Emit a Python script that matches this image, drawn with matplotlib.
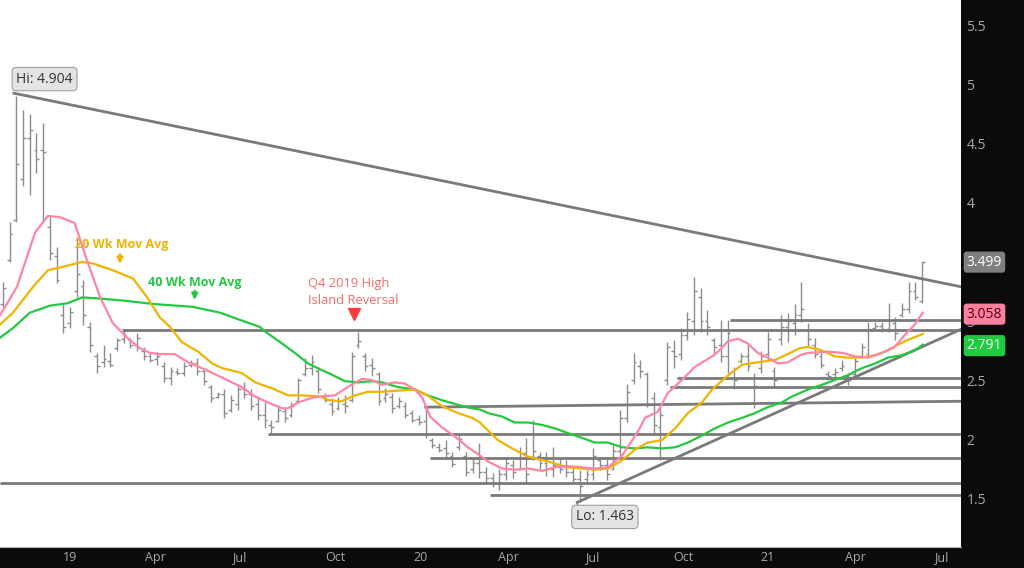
import numpy as np
import matplotlib.pyplot as plt

plt.rcParams['font.family'] = ['Open Sans', 'DejaVu Sans']

# weekly OHLC bars, late Oct 2018 .. mid Jun 2021
high = [3.33, 3.84, 4.904, 4.79, 4.75, 4.59, 4.68, 3.88, 3.63, 3.15,
        3.12, 3.71, 3.35, 2.99, 2.73, 2.80, 2.73, 2.86, 2.92, 2.86,
        2.90, 2.78, 2.74, 2.74, 2.65, 2.61, 2.60, 2.65, 2.67, 2.69,
        2.60, 2.46, 2.40, 2.42, 2.37, 2.46, 2.48, 2.42, 2.35, 2.31,
        2.16, 2.29, 2.27, 2.31, 2.52, 2.69, 2.71, 2.61, 2.39, 2.35,
        2.36, 2.37, 2.74, 2.91, 2.73, 2.69, 2.57, 2.43, 2.39, 2.36,
        2.31, 2.25, 2.20, 2.27, 2.01, 1.97, 1.99, 1.89, 2.03, 1.89,
        1.85, 1.97, 1.76, 1.71, 1.75, 1.85, 1.82, 1.93, 2.01, 2.16,
        1.89, 1.89, 1.93, 1.84, 1.82, 1.76, 1.74, 1.74, 1.92, 1.85,
        1.84, 1.95, 2.25, 2.47, 2.73, 2.67, 2.57, 2.40, 2.27, 2.82,
        2.84, 2.94, 3.08, 3.37, 3.28, 3.09, 2.86, 3.01, 3.01, 2.61,
        2.73, 2.81, 2.56, 2.75, 2.91, 2.61, 3.05, 3.07, 3.14, 3.33,
        2.98, 2.86, 2.75, 2.58, 2.60, 2.67, 2.56, 2.69, 2.81, 2.99,
        2.99, 2.99, 3.15, 3.03, 3.15, 3.33, 3.33, 3.499]
low = [3.12, 3.50, 3.84, 4.14, 4.07, 4.25, 3.84, 3.52, 3.32, 2.90,
       2.94, 3.20, 2.97, 2.74, 2.56, 2.61, 2.61, 2.75, 2.81, 2.77,
       2.75, 2.67, 2.65, 2.63, 2.48, 2.46, 2.54, 2.53, 2.61, 2.54,
       2.46, 2.31, 2.35, 2.18, 2.23, 2.25, 2.35, 2.25, 2.16, 2.09,
       2.05, 2.14, 2.14, 2.19, 2.31, 2.53, 2.54, 2.39, 2.31, 2.20,
       2.25, 2.22, 2.31, 2.77, 2.58, 2.53, 2.29, 2.31, 2.22, 2.26,
       2.18, 2.14, 2.12, 2.01, 1.92, 1.89, 1.85, 1.76, 1.91, 1.69,
       1.71, 1.67, 1.63, 1.59, 1.57, 1.65, 1.67, 1.74, 1.63, 1.82,
       1.75, 1.69, 1.68, 1.71, 1.68, 1.64, 1.463, 1.64, 1.65, 1.74,
       1.65, 1.74, 1.85, 2.14, 2.47, 2.52, 2.27, 2.05, 1.82, 2.46,
       2.60, 2.67, 2.84, 2.88, 2.91, 2.88, 2.73, 2.65, 2.56, 2.42,
       2.64, 2.58, 2.26, 2.56, 2.67, 2.44, 2.80, 2.82, 2.88, 2.99,
       2.78, 2.69, 2.60, 2.50, 2.52, 2.58, 2.46, 2.53, 2.69, 2.69,
       2.92, 2.91, 2.91, 2.84, 3.03, 3.07, 3.18, 3.15]
opn = [3.14, 3.52, 3.86, 4.20, 4.55, 4.45, 4.45, 3.80, 3.55, 3.05,
       2.98, 3.25, 3.30, 2.95, 2.70, 2.65, 2.66, 2.77, 2.85, 2.84,
       2.80, 2.75, 2.70, 2.68, 2.62, 2.52, 2.57, 2.56, 2.63, 2.64,
       2.58, 2.44, 2.36, 2.38, 2.25, 2.30, 2.42, 2.38, 2.30, 2.20,
       2.12, 2.15, 2.24, 2.20, 2.32, 2.55, 2.60, 2.58, 2.36, 2.30,
       2.26, 2.30, 2.33, 2.80, 2.70, 2.63, 2.55, 2.35, 2.36, 2.28,
       2.28, 2.22, 2.17, 2.15, 1.99, 1.93, 1.92, 1.86, 1.93, 1.86,
       1.75, 1.80, 1.72, 1.67, 1.62, 1.70, 1.78, 1.75, 1.88, 1.85,
       1.86, 1.80, 1.75, 1.78, 1.76, 1.72, 1.66, 1.66, 1.70, 1.82,
       1.78, 1.75, 1.90, 2.18, 2.50, 2.62, 2.55, 2.35, 2.10, 2.50,
       2.75, 2.72, 2.88, 3.00, 3.20, 3.00, 2.84, 2.80, 2.70, 2.58,
       2.66, 2.70, 2.52, 2.60, 2.72, 2.58, 2.85, 2.95, 2.98, 3.05,
       2.92, 2.80, 2.70, 2.55, 2.55, 2.60, 2.53, 2.55, 2.70, 2.72,
       2.94, 2.96, 2.93, 2.98, 3.05, 3.10, 3.25, 3.17]
close = [3.28, 3.74, 4.33, 4.55, 4.62, 4.37, 4.43, 3.58, 3.35, 2.95,
         3.08, 3.40, 3.05, 2.80, 2.62, 2.68, 2.63, 2.84, 2.88, 2.80,
         2.86, 2.70, 2.67, 2.70, 2.52, 2.58, 2.56, 2.62, 2.64, 2.58,
         2.49, 2.35, 2.38, 2.22, 2.33, 2.42, 2.38, 2.28, 2.20, 2.16,
         2.10, 2.25, 2.18, 2.28, 2.50, 2.60, 2.65, 2.42, 2.33, 2.24,
         2.32, 2.28, 2.70, 2.83, 2.62, 2.60, 2.32, 2.38, 2.26, 2.32,
         2.20, 2.16, 2.14, 2.03, 1.95, 1.91, 1.88, 1.79, 2.00, 1.72,
         1.80, 1.72, 1.67, 1.62, 1.70, 1.80, 1.72, 1.88, 1.70, 1.90,
         1.80, 1.75, 1.78, 1.75, 1.72, 1.66, 1.60, 1.70, 1.86, 1.78,
         1.70, 1.90, 2.18, 2.40, 2.65, 2.58, 2.30, 2.12, 2.20, 2.78,
         2.70, 2.88, 3.02, 3.25, 3.00, 2.95, 2.78, 2.70, 2.90, 2.50,
         2.70, 2.62, 2.45, 2.70, 2.85, 2.50, 2.95, 3.00, 3.05, 3.10,
         2.85, 2.72, 2.63, 2.53, 2.57, 2.62, 2.50, 2.66, 2.78, 2.93,
         2.96, 2.93, 3.00, 2.90, 3.10, 3.25, 3.20, 3.499]

# moving averages (bar number, value)
pink_x = [-0.4, 2.1, 4.8, 6.7, 8.5, 10.7, 12.5, 14.5, 16.4, 18.5, 20.4, 21.9, 23.4, 25.6, 27.6,
          30.1, 32.7, 35.6, 37.6, 39.5, 41.6, 42.5, 44.0, 46.1, 47.3, 49.5, 51.4, 53.5, 55.0, 56.5,
          58.4, 59.9, 61.4, 62.5, 63.7, 65.4, 67.4, 69.3, 71.1, 72.3, 74.4, 76.3, 78.3, 80.3, 82.3,
          84.2, 86.3, 88.2, 90.2, 92.3, 93.8, 94.9, 95.7, 97.6, 99.1, 101.2, 103.1, 105.7, 106.4, 108.1,
          109.6, 111.0, 112.5, 114.0, 115.5, 117.0, 118.8, 120.0, 123.0, 125.1, 127.0, 129.0, 131.0,
          132.9, 134.4, 135.9, 137.1]
pink_v = [3.05, 3.29, 3.75, 3.89, 3.88, 3.83, 3.52, 3.20, 2.98, 2.86, 2.77, 2.73, 2.72, 2.72, 2.65,
          2.59, 2.52, 2.44, 2.36, 2.31, 2.26, 2.26, 2.31, 2.35, 2.36, 2.37, 2.44, 2.51, 2.50, 2.46,
          2.48, 2.47, 2.42, 2.35, 2.19, 2.10, 2.02, 1.93, 1.86, 1.81, 1.75, 1.74, 1.75, 1.73, 1.76,
          1.77, 1.76, 1.75, 1.76, 1.86, 1.99, 2.09, 2.18, 2.23, 2.39, 2.50, 2.61, 2.70, 2.73, 2.83,
          2.85, 2.81, 2.73, 2.69, 2.64, 2.65, 2.71, 2.73, 2.74, 2.73, 2.70, 2.69, 2.73,
          2.78, 2.88, 2.97, 3.07]
ma20_x = [-0.4, 1.5, 4.5, 6.7, 9.0, 11.8, 13.3, 16.4, 19.4, 21.5, 23.4, 24.9, 26.7, 29.1, 31.2,
          32.7, 35.6, 37.6, 40.1, 42.5, 44.6, 47.3, 48.5, 50.5, 52.5, 54.4, 56.5, 58.9, 61.4, 63.3,
          65.4, 67.8, 69.9, 71.1, 71.8, 73.8, 75.9, 78.3, 81.2, 84.2, 86.3, 88.2, 90.2, 92.3, 94.2,
          96.1, 98.2, 100.2, 102.1, 104.2, 105.7, 108.1, 110.2, 112.5, 115.1, 116.6, 118.8, 120.0,
          122.1, 124.0, 125.9, 128.0, 130.0, 131.9, 133.4, 134.9, 137.1]
ma20_v = [2.97, 3.07, 3.29, 3.43, 3.46, 3.50, 3.49, 3.43, 3.36, 3.20, 3.03, 2.95, 2.82, 2.74, 2.64,
          2.60, 2.56, 2.48, 2.43, 2.37, 2.37, 2.36, 2.33, 2.32, 2.37, 2.40, 2.40, 2.41, 2.42, 2.37,
          2.28, 2.22, 2.18, 2.14, 2.10, 1.99, 1.92, 1.85, 1.81, 1.76, 1.75, 1.74, 1.75, 1.82, 1.91,
          1.97, 1.99, 2.09, 2.22, 2.31, 2.42, 2.54, 2.63, 2.65, 2.67, 2.71, 2.77, 2.78,
          2.75, 2.70, 2.69, 2.69, 2.71, 2.75, 2.80, 2.84, 2.89]
ma40_x = [-0.4, 1.5, 4.0, 7.0, 9.6, 11.8, 14.5, 18.5, 21.5, 23.4, 28.3, 32.4, 35.3, 38.3, 39.1,
          41.6, 43.5, 45.5, 47.3, 48.5, 51.0, 52.9, 55.0, 56.5, 58.9, 61.4, 63.3, 65.4, 67.8, 69.9,
          71.1, 72.3, 74.4, 76.3, 78.3, 80.3, 82.3, 84.2, 86.3, 88.2, 90.2, 92.3, 94.2, 96.1, 98.2,
          100.2, 102.1, 104.2, 106.1, 108.1, 110.2, 112.1, 114.0, 116.1, 117.6, 118.8, 120.0, 122.1,
          124.0, 125.9, 128.0, 130.0, 131.9, 134.0, 135.9, 137.1]
ma40_v = [2.86, 2.94, 3.07, 3.13, 3.15, 3.20, 3.19, 3.17, 3.15, 3.14, 3.12, 3.07, 3.01, 2.95, 2.91,
          2.81, 2.73, 2.64, 2.59, 2.56, 2.49, 2.48, 2.49, 2.48, 2.44, 2.42, 2.37, 2.33, 2.29, 2.26,
          2.25, 2.22, 2.19, 2.14, 2.14, 2.12, 2.09, 2.05, 2.01, 1.97, 1.97, 1.93, 1.92, 1.93, 1.92,
          1.93, 1.97, 2.03, 2.09, 2.14, 2.18, 2.22, 2.27, 2.31, 2.36, 2.39, 2.42, 2.46,
          2.50, 2.54, 2.60, 2.64, 2.69, 2.71, 2.75, 2.80]

# support / resistance levels: value and bar where the line starts
level_vals = [2.92, 3.01, 2.52, 2.44, 2.04, 1.84, 1.63, 1.525]
level_from = [17.7, 108.4, 100.5, 99.4, 39.5, 63.7, -0.5, 72.6]
slant_level = [(63.0, 2.27), (142.8, 2.32)]
down_trend = [(1.65, 4.93), (142.8, 3.29)]
up_trend = [(85.6, 1.463), (142.8, 2.93)]

xtick_pos = [10.0, 22.7, 35.2, 49.6, 62.2, 75.3, 87.8, 101.4, 114.0, 127.0, 139.8]
xtick_lab = ['19', 'Apr', 'Jul', 'Oct', '20', 'Apr', 'Jul', 'Oct', '21', 'Apr', 'Jul']
ytick_pos = [1.5, 2, 2.5, 3, 4, 4.5, 5, 5.5]  # 3.5 sits under the last-price tag

fig = plt.figure(figsize=(10.24, 5.68), dpi=100, facecolor='#0b0b0b')
ax = fig.add_axes([0, 21 / 568, 961 / 1024, 547 / 568])
ax.set_facecolor('white')
ax.set_xlim(-0.43, 142.8)
ax.set_ylim(1.085, 5.72)

x = np.arange(len(high))
bar_col = '#8c8c8c'
ax.vlines(x, low, high, color=bar_col, lw=1, zorder=2)
ax.hlines(opn, x - 0.42, x, color=bar_col, lw=1, zorder=2)
ax.hlines(close, x, x + 0.42, color=bar_col, lw=1, zorder=2)

line_col = '#7a7a7a'
ax.hlines(level_vals, level_from, 142.8, color=line_col, lw=2, zorder=3)
for seg in [slant_level, down_trend, up_trend]:
    ax.plot([p[0] for p in seg], [p[1] for p in seg], color=line_col, lw=2, zorder=3)

ax.plot(ma40_x, ma40_v, color='#22c940', lw=1.6, zorder=4)
ax.plot(ma20_x, ma20_v, color='#f0b400', lw=1.6, zorder=4)
ax.plot(pink_x, pink_v, color='#ff85a5', lw=1.6, zorder=4)

# annotations
ax.text(10.7, 3.645, '20 Wk Mov Avg', color='#f0b400', fontsize=9, fontweight='bold', va='center')
ax.annotate('', xy=(17.45, 3.46), xytext=(17.45, 3.59),
            arrowprops=dict(arrowstyle='-|>', color='#f0b400', lw=1.6, mutation_scale=9))
ax.text(21.6, 3.33, '40 Wk Mov Avg', color='#22c940', fontsize=9, fontweight='bold', va='center')
ax.annotate('', xy=(28.6, 3.155), xytext=(28.6, 3.28),
            arrowprops=dict(arrowstyle='-|>', color='#22c940', lw=1.6, mutation_scale=9))
ax.text(45.5, 3.245, 'Q4 2019 High\nIsland Reversal', color='#f26b6b', fontsize=9.3,
        va='center', linespacing=1.45)
ax.plot([52.3], [3.06], marker='v', color='#ff3b3b', ms=8, zorder=5)

box = dict(boxstyle='round,pad=0.3', fc='#e4e4e4', ec='#a0a0a0', lw=0.8)
ax.text(2.0, 5.05, 'Hi: 4.904', color='#333333', fontsize=10, va='center', bbox=box, zorder=6)
ax.text(85.4, 1.34, 'Lo: 1.463', color='#333333', fontsize=10, va='center', bbox=box, zorder=6)
ax.plot([85.6, 85.6], [1.463, 1.40], color='#808080', lw=1, zorder=5)

# right-axis value tags
tr = ax.get_yaxis_transform()
for val, fc, tc in [(3.499, '#7f7f7f', 'white'), (3.058, '#ff7f9f', '#4a0010'), (2.791, '#1fcc3f', 'white')]:
    ax.text(1.006, val, f'{val:.3f}', transform=tr, color=tc, fontsize=10, va='center', ha='left',
            bbox=dict(boxstyle='round,pad=0.22', fc=fc, ec='none'), zorder=10, clip_on=False)

ax.yaxis.tick_right()
ax.set_yticks(ytick_pos)
ax.set_yticklabels([f'{v:g}' for v in ytick_pos])
ax.set_xticks(xtick_pos)
ax.set_xticklabels(xtick_lab)
ax.tick_params(axis='y', length=0, pad=4, labelcolor='#a8a8a8', labelsize=10)
ax.tick_params(axis='x', length=0, pad=3, labelcolor='#a8a8a8', labelsize=9)
for s in ['top', 'left', 'right']:
    ax.spines[s].set_visible(False)
ax.spines['bottom'].set_color('#b0b0b0')

fig.savefig('out.png', dpi=100, facecolor=fig.get_facecolor())
